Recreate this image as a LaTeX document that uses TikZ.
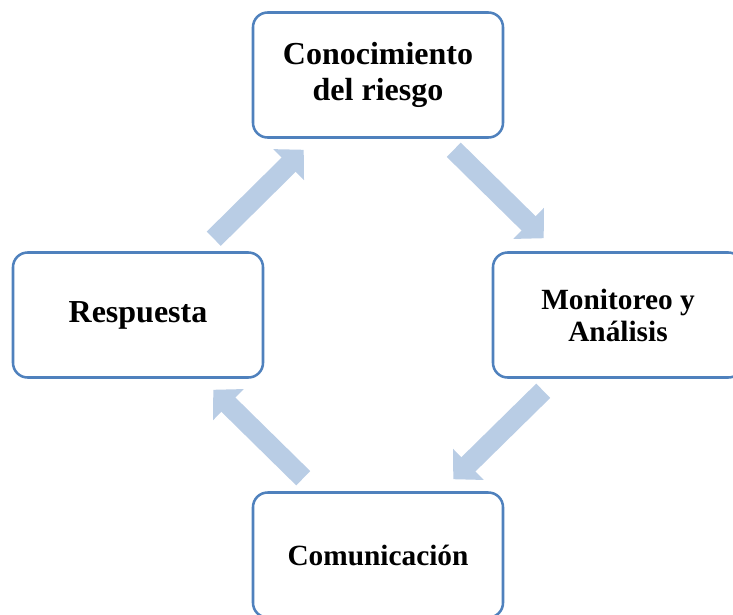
\documentclass[tikz,border=0pt]{standalone}
\usepackage{fontspec}
\setmainfont{Liberation Serif}
\usetikzlibrary{arrows.meta}

\definecolor{borde}{RGB}{79,129,189}
\definecolor{relleno}{RGB}{185,205,229}

\tikzset{
  etapa/.style={rectangle, rounded corners=11pt, draw=borde, line width=1.9pt,
    fill=white, minimum width=187.5pt, minimum height=93.75pt, align=center,
    font=\fontsize{24}{27.6}\selectfont\bfseries},
  chica/.style={font=\fontsize{22}{24}\selectfont\bfseries},
  flecha/.style={draw=relleno, line width=15pt,
    -{Triangle[length=15.9pt, width=31.8pt]}}
}

\begin{document}
\begin{tikzpicture}[x=0.75pt, y=-0.75pt]
    \useasboundingbox (0,0) rectangle (733,615);
    \clip (0,0) rectangle (733,615);

    % etapas del ciclo
    \node[etapa] (conoc) at (378,75) {Conocimiento\\del riesgo};
    \node[etapa, chica] (monit) at (618,315) {Monitoreo y\\Análisis};
    \node[etapa, chica] (comun) at (378,555) {Comunicación};
    \node[etapa] (resp) at (138,315) {Respuesta};

    % flechas
    \draw[flecha] ([shift={(-50.5,11)}]conoc.south east) -- ([shift={(52,-13)}]monit.north west);
    \draw[flecha] ([shift={(51.5,12)}]monit.south west) -- ([shift={(-51,-12)}]comun.north east);
    \draw[flecha] ([shift={(51.5,-13)}]comun.north west) -- ([shift={(-51,11)}]resp.south east);
    \draw[flecha] ([shift={(-50.5,-12.5)}]resp.north east) -- ([shift={(52,11)}]conoc.south west);
\end{tikzpicture}
\end{document}
